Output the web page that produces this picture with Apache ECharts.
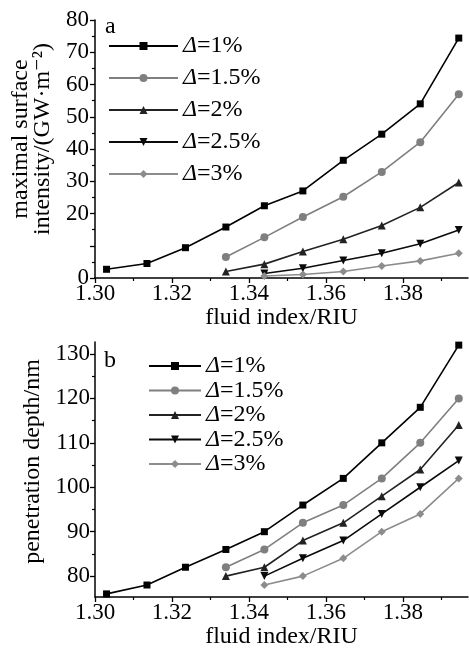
<!DOCTYPE html>
<html>
<head>
<meta charset="utf-8">
<script src="https://cdn.jsdelivr.net/npm/echarts@6/dist/echarts.min.js"></script>
<style>
html, body { margin: 0; padding: 0; background: #fff; }
#main { width: 469px; height: 648px; }
</style>
</head>
<body>
<div id="main"></div>
<script>
// fluid index (x) shared by both panels
var fluidIndex = [1.303, 1.3135, 1.3235, 1.334, 1.344, 1.354, 1.3645, 1.3745, 1.3845, 1.3945];
var deltaNames = ['1%', '1.5%', '2%', '2.5%', '3%'];

// panel a: maximal surface intensity / (GW·m^-2)
var intensity1 = [2.7, 4.5, 9.4, 15.8, 22.4, 27.0, 36.5, 44.6, 54.0, 74.4];
var intensity15 = [null, null, null, 6.5, 12.6, 18.9, 25.2, 32.9, 42.1, 57.0];
var intensity2 = [null, null, null, 2.0, 4.3, 8.2, 12.0, 16.3, 21.9, 29.6];
var intensity25 = [null, null, null, null, 1.4, 3.0, 5.4, 7.7, 10.6, 14.9];
var intensity3 = [null, null, null, null, 0.6, 1.1, 2.0, 3.7, 5.3, 7.7];

// panel b: penetration depth / nm
var depth1 = [76, 78, 82, 86, 90, 96, 102, 110, 118, 132];
var depth15 = [null, null, null, 82, 86, 92, 96, 102, 110, 120];
var depth2 = [null, null, null, 80, 82, 88, 92, 98, 104, 114];
var depth25 = [null, null, null, null, 80, 84, 88, 94, 100, 106];
var depth3 = [null, null, null, null, 78, 80, 84, 90, 94, 102];

// tick labels
var xTicks = [1.30, 1.32, 1.34, 1.36, 1.38];
var xMinorTicks = [1.31, 1.33, 1.35, 1.37, 1.39];
var aTicks = [0, 10, 20, 30, 40, 50, 60, 70, 80];
var aLabels = [0, 20, 30, 40, 50, 60, 70, 80];
var aMinorTicks = [5, 15, 25, 35, 45, 55, 65, 75];
var bTicks = [80, 90, 100, 110, 120, 130];
var bMinorTicks = [85, 95, 105, 115, 125];

var FONT = '"Liberation Serif", "DejaVu Serif", serif';
var colors = ['#000000', '#7f7f7f', '#222222', '#0a0a0a', '#8c8c8c'];
var symbols = ['rect', 'circle', 'triangle', 'triangle', 'diamond'];
var rotates = [0, 0, 0, 180, 0];

function pairs(ys) {
    var res = [];
    for (var i = 0; i < fluidIndex.length; i++) {
        if (ys[i] != null) res.push([fluidIndex[i], ys[i]]);
    }
    return res;
}

function makeSeries(list, xi, yi) {
    var out = [];
    for (var i = 0; i < list.length; i++) {
        out.push({
            name: deltaNames[i],
            type: 'line',
            xAxisIndex: xi,
            yAxisIndex: yi,
            data: pairs(list[i]),
            symbol: symbols[i],
            symbolRotate: rotates[i],
            symbolSize: i === 0 ? 7 : 8,
            lineStyle: { color: colors[i], width: 1.6 },
            itemStyle: { color: colors[i] },
            animation: false
        });
    }
    return out;
}

function xAxisPair(gi) {
    return [
        {
            type: 'value', gridIndex: gi, min: 1.30, max: 1.3969, position: 'bottom',
            name: 'fluid index/RIU', nameLocation: 'middle', nameGap: 28,
            nameTextStyle: { fontFamily: FONT, fontSize: 24, color: '#000' },
            axisLine: { lineStyle: { color: '#000', width: 1.5 } },
            axisTick: { customValues: xTicks, length: 5, lineStyle: { color: '#000', width: 1.3 } },
            axisLabel: {
                customValues: xTicks, margin: 4, fontFamily: FONT, fontSize: 23, color: '#000',
                formatter: function (v) { return v.toFixed(2); }
            },
            splitLine: { show: false }
        },
        {
            type: 'value', gridIndex: gi, min: 1.30, max: 1.3969, position: 'bottom', offset: 0,
            axisLine: { show: false },
            axisTick: { customValues: xMinorTicks, length: 3, lineStyle: { color: '#000', width: 1.2 } },
            axisLabel: { show: false },
            splitLine: { show: false }
        }
    ];
}

var option = {
    backgroundColor: '#fff',
    animation: false,
    grid: [
        { left: 95, top: 20, width: 373, height: 258, outerBoundsMode: 'none' },
        { left: 95, top: 342, width: 373, height: 255, outerBoundsMode: 'none' }
    ],
    legend: [
        {
            orient: 'vertical', left: 103, top: 29,
            itemWidth: 69, itemHeight: 10, itemGap: 8,
            data: deltaNames,
            formatter: function (n) { return '{it|Δ}=' + n; },
            textStyle: {
                fontFamily: FONT, fontSize: 24, color: '#000', lineHeight: 24,
                rich: { it: { fontFamily: FONT, fontSize: 24, fontStyle: 'italic', color: '#000', lineHeight: 24 } }
            }
        },
        {
            orient: 'vertical', left: 143, top: 349,
            itemWidth: 52, itemHeight: 10, itemGap: 0.5,
            data: deltaNames,
            formatter: function (n) { return '{it|Δ}=' + n; },
            textStyle: {
                fontFamily: FONT, fontSize: 24, color: '#000', lineHeight: 24,
                rich: { it: { fontFamily: FONT, fontSize: 24, fontStyle: 'italic', color: '#000', lineHeight: 24 } }
            }
        }
    ],
    graphic: [
        { type: 'text', left: 105, top: 15, style: { text: 'a', font: '24px ' + FONT, fill: '#000' } },
        { type: 'text', left: 104, top: 349, style: { text: 'b', font: '24px ' + FONT, fill: '#000' } }
    ],
    xAxis: xAxisPair(0).concat(xAxisPair(1)),
    yAxis: [
        {
            type: 'value', gridIndex: 0, min: 0, max: 80,
            name: 'maximal surface\nintensity/(GW·m⁻²)', nameLocation: 'middle', nameRotate: 90, nameGap: 38,
            nameTextStyle: { fontFamily: FONT, fontSize: 24, color: '#000', lineHeight: 22, padding: [0, 0, 0, 20] },
            axisLine: { show: true, lineStyle: { color: '#000', width: 1.5 } },
            axisTick: { show: true, customValues: aTicks, length: 5, lineStyle: { color: '#000', width: 1.3 } },
            axisLabel: { customValues: aLabels, margin: 6, fontFamily: FONT, fontSize: 23, color: '#000' },
            splitLine: { show: false }
        },
        {
            type: 'value', gridIndex: 0, min: 0, max: 80, position: 'left', offset: 0,
            axisLine: { show: false },
            axisTick: { show: true, customValues: aMinorTicks, length: 3, lineStyle: { color: '#000', width: 1.2 } },
            axisLabel: { show: false },
            splitLine: { show: false }
        },
        {
            type: 'value', gridIndex: 1, min: 75.3, max: 132.7,
            name: 'penetration depth/nm', nameLocation: 'middle', nameRotate: 90, nameGap: 50,
            nameTextStyle: { fontFamily: FONT, fontSize: 24, color: '#000', padding: [0, 0, 0, 16] },
            axisLine: { show: true, lineStyle: { color: '#000', width: 1.5 } },
            axisTick: { show: true, customValues: bTicks, length: 5, lineStyle: { color: '#000', width: 1.3 } },
            axisLabel: { customValues: bTicks, margin: 5, fontFamily: FONT, fontSize: 23, color: '#000' },
            splitLine: { show: false }
        },
        {
            type: 'value', gridIndex: 1, min: 75.3, max: 132.7, position: 'left', offset: 0,
            axisLine: { show: false },
            axisTick: { show: true, customValues: bMinorTicks, length: 3, lineStyle: { color: '#000', width: 1.2 } },
            axisLabel: { show: false },
            splitLine: { show: false }
        }
    ],
    series: makeSeries([intensity1, intensity15, intensity2, intensity25, intensity3], 0, 0)
        .concat(makeSeries([depth1, depth15, depth2, depth25, depth3], 2, 2))
};

var myChart = echarts.init(document.getElementById('main'), null, { renderer: 'canvas' });
myChart.setOption(option);
</script>
</body>
</html>
